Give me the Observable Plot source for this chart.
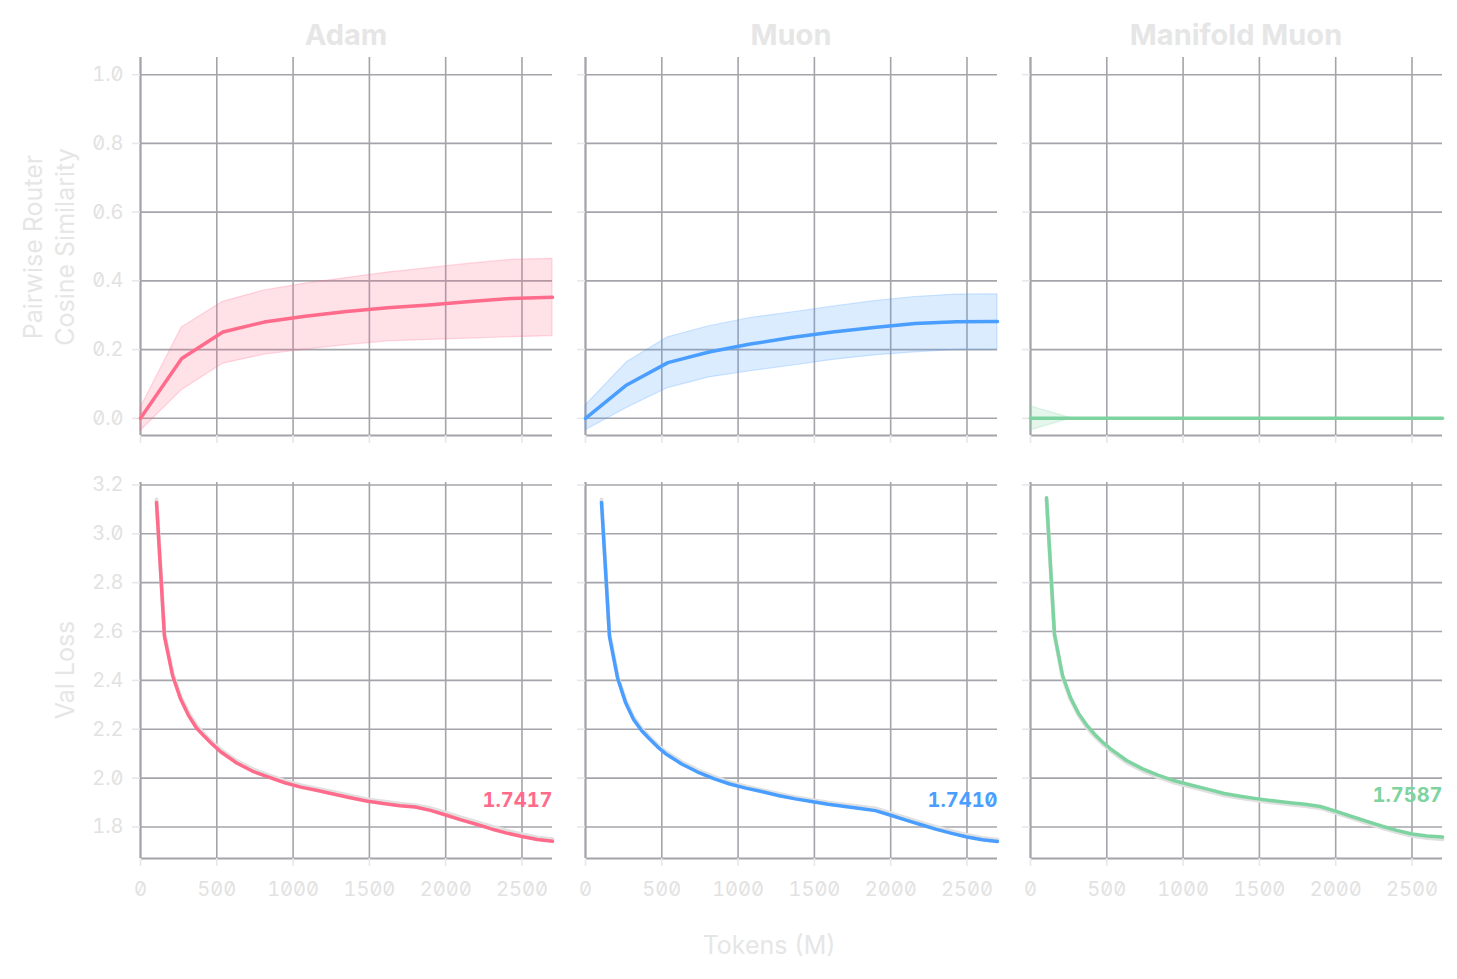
<!DOCTYPE html>
<html>
<head>
<meta charset="utf-8">
<script src="https://cdn.jsdelivr.net/npm/d3@7"></script>
<script src="https://cdn.jsdelivr.net/npm/@observablehq/plot@0.6"></script>
<style>
  html, body { margin: 0; padding: 0; background: #ffffff; }
  #wrap { position: relative; width: 1457px; height: 979px; overflow: hidden; background: #fff; font-family: Inter, "Noto Sans", sans-serif; }
  .panel { position: absolute; }
  .panel text { font-feature-settings: "zero" 1, "tnum" 1; }
  .title { position: absolute; font-family: Inter, Roboto, sans-serif; font-weight: 700; font-size: 29px; color: #e6e6e6; text-align: center; width: 412px; line-height: 1; }
  .ylab { position: absolute; font-family: Inter, "Noto Sans", sans-serif; font-size: 25px; color: #e6e6e6; text-align: center; transform: translate(-50%, -50%) rotate(-90deg); white-space: nowrap; line-height: 32px; }
  .xlab { position: absolute; font-family: Inter, "Noto Sans", sans-serif; font-size: 25px; color: #e6e6e6; transform: translate(-50%, -50%); white-space: nowrap; }
</style>
</head>
<body>
<div id="wrap"></div>
<script>
// ---------- data ----------
const optimizers = ["Adam", "Muon", "Manifold Muon"];
const colors = ["#ff6b8b", "#4a9eff", "#7ed4a0"];

// Top row: pairwise router cosine similarity (mean with band)
const simTokens = [0, 270, 540, 810, 1080, 1350, 1620, 1890, 2160, 2430, 2700];
const adamSimMean  = [0.000, 0.174, 0.251, 0.280, 0.297, 0.311, 0.322, 0.330, 0.340, 0.349, 0.352];
const adamSimHigh  = [0.030, 0.264, 0.339, 0.372, 0.392, 0.408, 0.424, 0.437, 0.450, 0.461, 0.464];
const adamSimLow   = [-0.037, 0.082, 0.159, 0.185, 0.200, 0.213, 0.224, 0.228, 0.232, 0.236, 0.239];
const muonSimMean  = [0.000, 0.097, 0.162, 0.193, 0.216, 0.235, 0.251, 0.264, 0.276, 0.281, 0.282];
const muonSimHigh  = [0.037, 0.163, 0.236, 0.268, 0.292, 0.308, 0.325, 0.341, 0.353, 0.360, 0.361];
const muonSimLow   = [-0.035, 0.030, 0.088, 0.119, 0.137, 0.153, 0.170, 0.183, 0.192, 0.199, 0.200];
const manSimMean   = [0, 0, 0, 0, 0, 0, 0, 0, 0, 0, 0];
const manSimHigh   = [0.035, 0, 0, 0, 0, 0, 0, 0, 0, 0, 0];
const manSimLow    = [-0.035, 0, 0, 0, 0, 0, 0, 0, 0, 0, 0];

// Bottom row: validation loss
const lossTokens = [105, 157, 210, 262, 315, 367, 420, 472, 525, 630, 735, 840, 945, 1050, 1160, 1270, 1375, 1480, 1590, 1700, 1800, 1900, 2000, 2100, 2200, 2300, 2400, 2500, 2600, 2700];
const adamLoss = [3.128, 2.580, 2.420, 2.325, 2.256, 2.205, 2.170, 2.138, 2.108, 2.062, 2.028, 2.004, 1.981, 1.963, 1.949, 1.934, 1.920, 1.906, 1.896, 1.887, 1.882, 1.868, 1.849, 1.829, 1.811, 1.792, 1.775, 1.761, 1.749, 1.7417];
const muonLoss = [3.128, 2.580, 2.410, 2.310, 2.240, 2.195, 2.160, 2.128, 2.100, 2.058, 2.025, 1.998, 1.976, 1.959, 1.944, 1.928, 1.915, 1.904, 1.893, 1.884, 1.876, 1.867, 1.848, 1.828, 1.809, 1.790, 1.774, 1.759, 1.748, 1.7410];
const manLoss  = [3.148, 2.590, 2.420, 2.330, 2.265, 2.218, 2.180, 2.148, 2.120, 2.072, 2.038, 2.011, 1.989, 1.972, 1.955, 1.937, 1.926, 1.916, 1.907, 1.899, 1.893, 1.884, 1.865, 1.844, 1.824, 1.804, 1.786, 1.771, 1.763, 1.7587];
// faint gray reference curves drawn underneath
const adamLossRef = [3.140, 2.590, 2.430, 2.335, 2.266, 2.215, 2.178, 2.146, 2.117, 2.071, 2.037, 2.012, 1.989, 1.971, 1.957, 1.942, 1.928, 1.914, 1.904, 1.895, 1.889, 1.877, 1.859, 1.839, 1.821, 1.802, 1.785, 1.770, 1.757, 1.750];
const muonLossRef = [3.140, 2.590, 2.418, 2.318, 2.248, 2.203, 2.168, 2.135, 2.108, 2.066, 2.033, 2.006, 1.983, 1.966, 1.951, 1.935, 1.922, 1.911, 1.900, 1.891, 1.884, 1.876, 1.857, 1.837, 1.818, 1.799, 1.783, 1.767, 1.755, 1.748];
const manLossRef  = [3.140, 2.585, 2.414, 2.323, 2.258, 2.210, 2.172, 2.140, 2.112, 2.064, 2.030, 2.003, 1.981, 1.964, 1.947, 1.930, 1.919, 1.909, 1.900, 1.892, 1.886, 1.877, 1.858, 1.837, 1.817, 1.797, 1.779, 1.764, 1.755, 1.750];

const xTicks = [0, 500, 1000, 1500, 2000, 2500];
const simTicks = [0.0, 0.2, 0.4, 0.6, 0.8, 1.0];
const lossTicks = [1.8, 2.0, 2.2, 2.4, 2.6, 2.8, 3.0, 3.2];
const xDomain = [0, 2700];
const simDomain = [-0.05, 1.05];
const lossDomain = [1.671, 3.21];

const finalLabels = ["1.7417", "1.7410", "1.7587"];

// ---------- layout ----------
const colLeft = [140, 585, 1030];
const panelW = 412;
const rows = [{top: 57, bottom: 435}, {top: 482, bottom: 858}];
const ML = 50, MR = 12, MT = 10, MB = 45;

const gridColor = "#a4a4ab";
const tickColor = "#e8e8e8";
const tickText = "#e2e2e2";
const tickFont = "Inter, 'Noto Sans', sans-serif";

const wrap = document.getElementById("wrap");

const simSets = [
  [adamSimMean, adamSimLow, adamSimHigh],
  [muonSimMean, muonSimLow, muonSimHigh],
  [manSimMean, manSimLow, manSimHigh]
];
const lossSets = [[adamLoss, adamLossRef], [muonLoss, muonLossRef], [manLoss, manLossRef]];

function baseMarks(yDomain, yTicks, showY, showX, fmtY) {
  return [
    Plot.gridX(xTicks, {stroke: gridColor, strokeOpacity: 1, strokeWidth: 1.6}),
    Plot.gridY(yTicks, {stroke: gridColor, strokeOpacity: 1, strokeWidth: 1.6}),
    Plot.ruleY([yDomain[0]], {stroke: gridColor, strokeWidth: 2}),
    Plot.ruleX([xDomain[0]], {stroke: gridColor, strokeWidth: 2}),
    Plot.axisY(yTicks, {
      tickSize: 8, tickPadding: 9, stroke: tickColor, strokeWidth: 1.6, fill: tickText,
      fontSize: 20, label: null,
      tickFormat: showY ? fmtY : () => ""
    }),
    Plot.axisX(xTicks, {
      tickSize: 8, tickPadding: 15, stroke: tickColor, strokeWidth: 1.6, fill: tickText,
      fontSize: 20, label: null,
      tickFormat: showX ? (d => String(d)) : () => ""
    })
  ];
}

for (let c = 0; c < 3; c++) {
  // ---- top row ----
  const [mean, low, high] = simSets[c];
  const simData = simTokens.map((t, i) => ({t, mean: mean[i], low: low[i], high: high[i]}));
  const r0 = rows[0];
  const h0 = r0.bottom - r0.top;
  const top = Plot.plot({
    width: panelW + ML + MR,
    height: h0 + MT + MB,
    marginLeft: ML, marginRight: MR, marginTop: MT, marginBottom: MB,
    style: {fontFamily: tickFont, background: "transparent", overflow: "visible"},
    x: {domain: xDomain},
    y: {domain: simDomain},
    marks: [
      ...baseMarks(simDomain, simTicks, c === 0, false, d => d.toFixed(1)),
      Plot.areaY(simData, {x: "t", y1: "low", y2: "high", fill: colors[c], fillOpacity: 0.2, stroke: colors[c], strokeOpacity: 0.25, strokeWidth: 1.2}),
      Plot.line(simData, {x: "t", y: "mean", stroke: colors[c], strokeWidth: 3.5})
    ]
  });
  top.classList.add("panel");
  top.style.left = (colLeft[c] - ML) + "px";
  top.style.top = (r0.top - MT) + "px";
  wrap.appendChild(top);

  // ---- bottom row ----
  const [loss, ref] = lossSets[c];
  const lossData = lossTokens.map((t, i) => ({t, loss: loss[i], ref: ref[i]}));
  const last = lossData[lossData.length - 1];
  const r1 = rows[1];
  const h1 = r1.bottom - r1.top;
  const bot = Plot.plot({
    width: panelW + ML + MR,
    height: h1 + MT + MB,
    marginLeft: ML, marginRight: MR, marginTop: MT, marginBottom: MB,
    style: {fontFamily: tickFont, background: "transparent", overflow: "visible"},
    x: {domain: xDomain},
    y: {domain: lossDomain},
    marks: [
      ...baseMarks(lossDomain, lossTicks, c === 0, true, d => d.toFixed(1)),
      Plot.line(lossData, {x: "t", y: "ref", stroke: "#e0e0e0", strokeWidth: 4}),
      Plot.line(lossData, {x: "t", y: "loss", stroke: colors[c], strokeWidth: 3.5}),
      Plot.text([last], {x: "t", y: "loss", text: () => finalLabels[c], textAnchor: "end", dy: -41,
        fill: colors[c], fontWeight: "bold", fontSize: 20, fontFamily: tickFont})
    ]
  });
  bot.classList.add("panel");
  bot.style.left = (colLeft[c] - ML) + "px";
  bot.style.top = (r1.top - MT) + "px";
  wrap.appendChild(bot);

  // ---- title ----
  const t = document.createElement("div");
  t.className = "title";
  t.textContent = optimizers[c];
  t.style.left = colLeft[c] + "px";
  t.style.top = "20px";
  wrap.appendChild(t);
}

// axis labels
const yl1 = document.createElement("div");
yl1.className = "ylab";
yl1.innerHTML = "Pairwise Router<br>Cosine Similarity";
yl1.style.left = "49px";
yl1.style.top = "247px";
wrap.appendChild(yl1);

const yl2 = document.createElement("div");
yl2.className = "ylab";
yl2.textContent = "Val Loss";
yl2.style.left = "65px";
yl2.style.top = "670px";
wrap.appendChild(yl2);

const xl = document.createElement("div");
xl.className = "xlab";
xl.textContent = "Tokens (M)";
xl.style.left = "769px";
xl.style.top = "945px";
wrap.appendChild(xl);
</script>
</body>
</html>
